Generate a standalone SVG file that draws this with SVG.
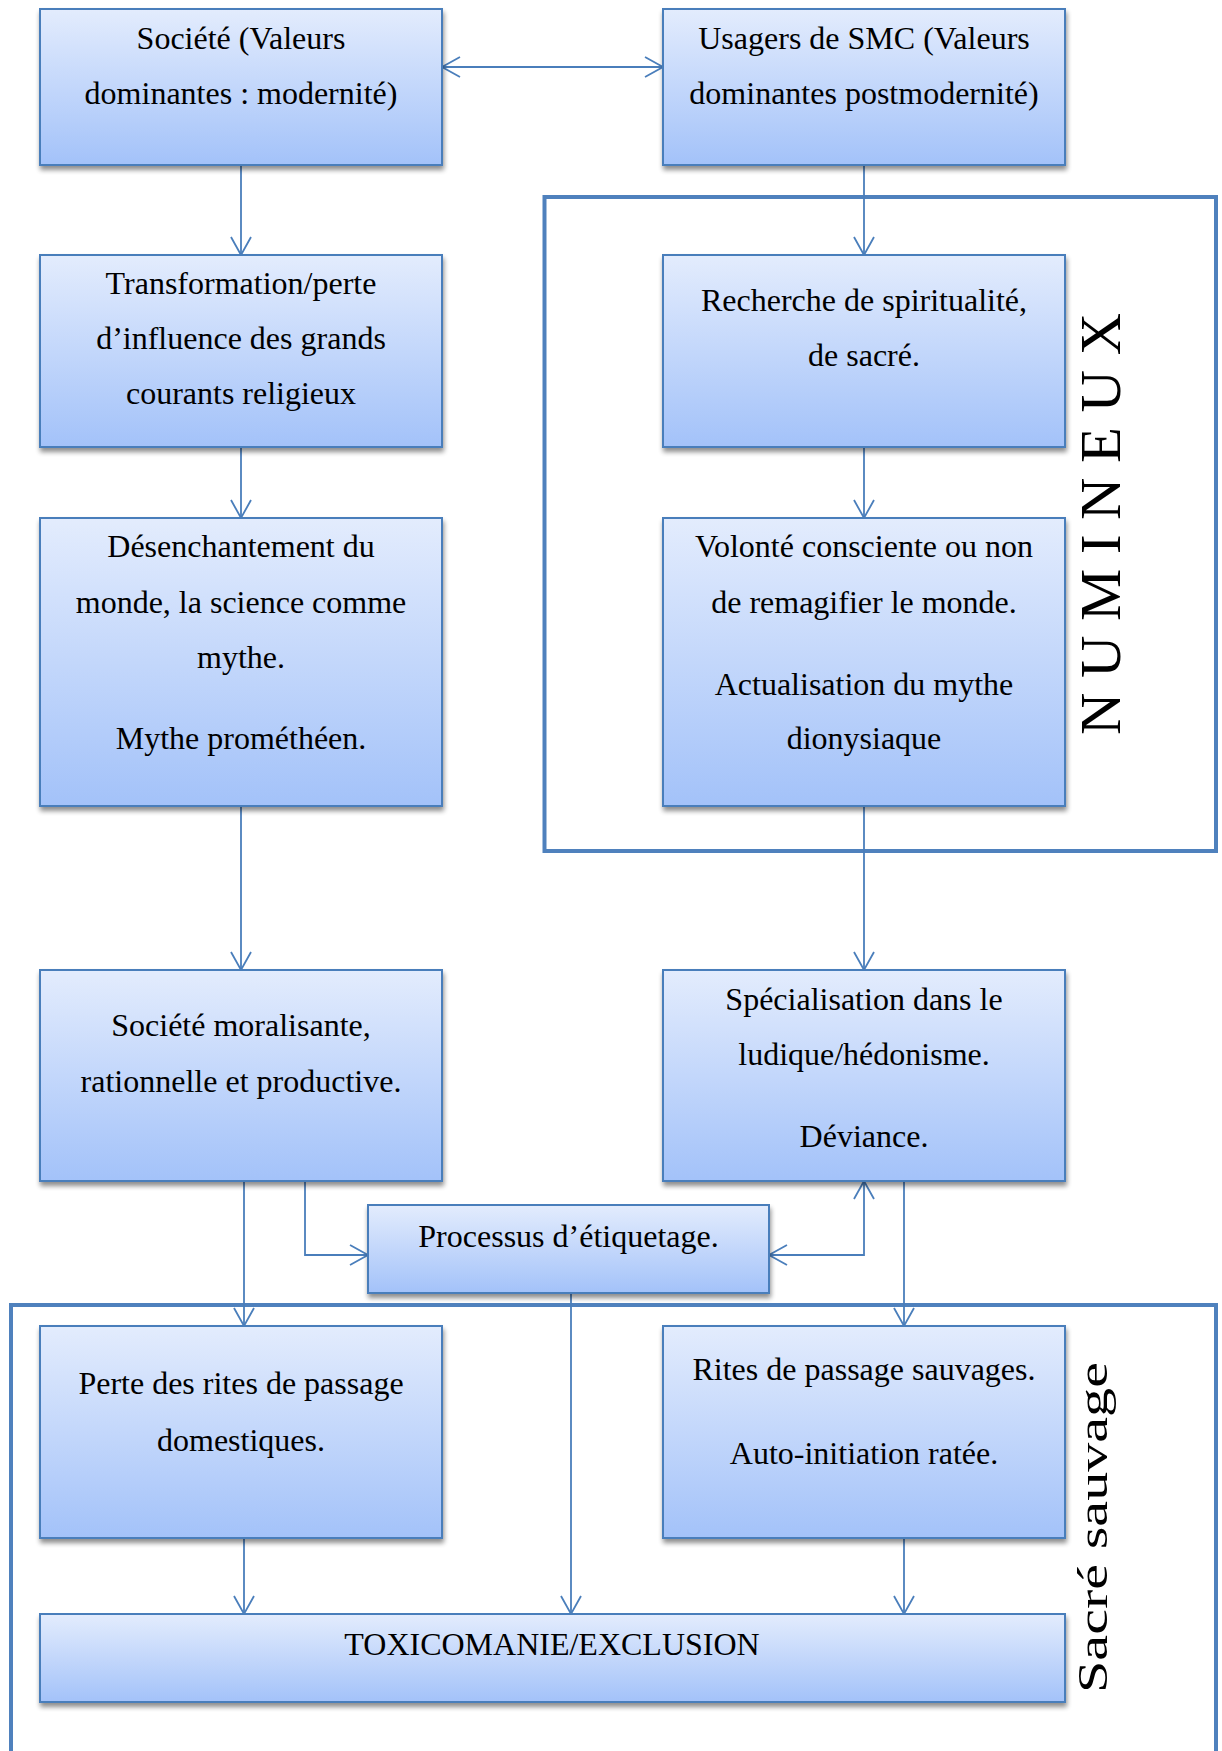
<svg xmlns="http://www.w3.org/2000/svg" width="1222" height="1751" viewBox="0 0 1222 1751">
<defs>
<linearGradient id="g" x1="0" y1="0" x2="0" y2="1">
<stop offset="0" stop-color="#e3ecfd"/>
<stop offset="1" stop-color="#a3c2f9"/>
</linearGradient>
<filter id="sh" x="-5%" y="-5%" width="110%" height="120%">
<feGaussianBlur in="SourceAlpha" stdDeviation="2.5"/>
<feOffset dx="1" dy="4" result="b"/>
<feComponentTransfer><feFuncA type="linear" slope="0.45"/></feComponentTransfer>
<feMerge><feMergeNode/><feMergeNode in="SourceGraphic"/></feMerge>
</filter>
<marker id="arr" markerUnits="userSpaceOnUse" markerWidth="22" markerHeight="24" viewBox="0 0 22 24" refX="20" refY="12" orient="auto-start-reverse">
<path d="M2,2 L20,12 L2,22" fill="none" stroke="#4a7ebb" stroke-width="1.8"/>
</marker>
</defs>
<style>
.box{fill:url(#g);stroke:#4a7ebb;stroke-width:2;filter:url(#sh)}
.t{font-family:"Liberation Serif","Times New Roman",serif;font-size:32px;fill:#000;text-anchor:middle}
.c{fill:none;stroke:#4a7ebb;stroke-width:1.8}
.frame{fill:none;stroke:#4f81bd;stroke-width:4}
.v{font-family:"Liberation Serif","Times New Roman",serif;fill:#000}
</style>
<rect width="1222" height="1751" fill="#fff"/>

<g id="frames">
<rect class="frame" x="544.5" y="197" width="671.5" height="654"/>
<path class="frame" d="M11,1760 L11,1305 L1216,1305 L1216,1760"/>
<text class="v" font-size="58" transform="translate(1120,735) rotate(-90)" textLength="422" lengthAdjust="spacingAndGlyphs">N U M I N E U X</text>
<text class="v" font-size="42" transform="translate(1107,1693) rotate(-90)" textLength="331" lengthAdjust="spacingAndGlyphs">Sacré sauvage</text>
</g>

<g id="connectors">
<path class="c" d="M442,67 L663,67" marker-start="url(#arr)" marker-end="url(#arr)"/>
<path class="c" d="M241,165 L241,255" marker-end="url(#arr)"/>
<path class="c" d="M864,165 L864,255" marker-end="url(#arr)"/>
<path class="c" d="M241,447 L241,518" marker-end="url(#arr)"/>
<path class="c" d="M864,447 L864,518" marker-end="url(#arr)"/>
<path class="c" d="M241,806 L241,970" marker-end="url(#arr)"/>
<path class="c" d="M864,806 L864,970" marker-end="url(#arr)"/>
<path class="c" d="M244,1181 L244,1326" marker-end="url(#arr)"/>
<path class="c" d="M305,1181 L305,1255 L368,1255" marker-end="url(#arr)"/>
<path class="c" d="M769,1255 L864,1255 L864,1181" marker-start="url(#arr)" marker-end="url(#arr)"/>
<path class="c" d="M904,1181 L904,1326" marker-end="url(#arr)"/>
<path class="c" d="M571,1293 L571,1614" marker-end="url(#arr)"/>
<path class="c" d="M244,1538 L244,1614" marker-end="url(#arr)"/>
<path class="c" d="M904,1538 L904,1614" marker-end="url(#arr)"/>
</g>

<g id="n-societe">
<rect class="box" x="40" y="9" width="402" height="156"/>
<text class="t" x="241" y="49">Société (Valeurs</text>
<text class="t" x="241" y="104">dominantes : modernité)</text>
</g>
<g id="n-usagers">
<rect class="box" x="663" y="9" width="402" height="156"/>
<text class="t" x="864" y="49">Usagers de SMC (Valeurs</text>
<text class="t" x="864" y="104">dominantes postmodernité)</text>
</g>
<g id="n-transformation">
<rect class="box" x="40" y="255" width="402" height="192"/>
<text class="t" x="241" y="294">Transformation/perte</text>
<text class="t" x="241" y="349">d’influence des grands</text>
<text class="t" x="241" y="404">courants religieux</text>
</g>
<g id="n-recherche">
<rect class="box" x="663" y="255" width="402" height="192"/>
<text class="t" x="864" y="311">Recherche de spiritualité,</text>
<text class="t" x="864" y="366">de sacré.</text>
</g>
<g id="n-desenchantement">
<rect class="box" x="40" y="518" width="402" height="288"/>
<text class="t" x="241" y="557">Désenchantement du</text>
<text class="t" x="241" y="613">monde, la science comme</text>
<text class="t" x="241" y="668">mythe.</text>
<text class="t" x="241" y="749">Mythe prométhéen.</text>
</g>
<g id="n-volonte">
<rect class="box" x="663" y="518" width="402" height="288"/>
<text class="t" x="864" y="557">Volonté consciente ou non</text>
<text class="t" x="864" y="613">de remagifier le monde.</text>
<text class="t" x="864" y="695">Actualisation du mythe</text>
<text class="t" x="864" y="749">dionysiaque</text>
</g>
<g id="n-moralisante">
<rect class="box" x="40" y="970" width="402" height="211"/>
<text class="t" x="241" y="1036">Société moralisante,</text>
<text class="t" x="241" y="1092">rationnelle et productive.</text>
</g>
<g id="n-specialisation">
<rect class="box" x="663" y="970" width="402" height="211"/>
<text class="t" x="864" y="1010">Spécialisation dans le</text>
<text class="t" x="864" y="1065">ludique/hédonisme.</text>
<text class="t" x="864" y="1147">Déviance.</text>
</g>
<g id="n-processus">
<rect class="box" x="368" y="1205" width="401" height="88"/>
<text class="t" x="568.5" y="1247">Processus d’étiquetage.</text>
</g>
<g id="n-perte">
<rect class="box" x="40" y="1326" width="402" height="212"/>
<text class="t" x="241" y="1394">Perte des rites de passage</text>
<text class="t" x="241" y="1451">domestiques.</text>
</g>
<g id="n-rites">
<rect class="box" x="663" y="1326" width="402" height="212"/>
<text class="t" x="864" y="1380">Rites de passage sauvages.</text>
<text class="t" x="864" y="1464">Auto-initiation ratée.</text>
</g>
<g id="n-toxicomanie">
<rect class="box" x="40" y="1614" width="1025" height="88"/>
<text class="t" x="552" y="1655">TOXICOMANIE/EXCLUSION</text>
</g>
</svg>
